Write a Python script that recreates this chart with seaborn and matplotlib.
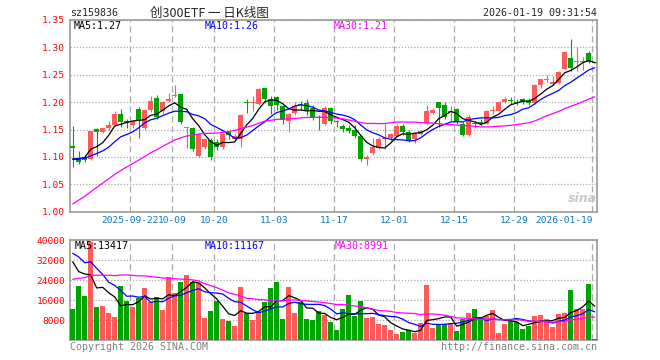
import numpy as np
import pandas as pd
import matplotlib
matplotlib.use('Agg')
import matplotlib.pyplot as plt
import seaborn as sns

# 创300ETF 日K, 2025-09-08 .. 2026-01-19
opens = [1.120, 1.098, 1.099, 1.097, 1.151, 1.145, 1.153, 1.159, 1.179, 1.165,
         1.158, 1.188, 1.152, 1.185, 1.208, 1.183, 1.203, 1.212, 1.214, 1.152,
         1.153, 1.102, 1.118, 1.131, 1.128, 1.118, 1.145, 1.133, 1.133, 1.200,
         1.198, 1.196, 1.225, 1.205, 1.210, 1.193, 1.166, 1.180, 1.196, 1.198,
         1.190, 1.172, 1.160, 1.190, 1.165, 1.157, 1.152, 1.149, 1.139, 1.097,
         1.107, 1.117, 1.133, 1.135, 1.138, 1.157, 1.145, 1.132, 1.142, 1.162,
         1.180, 1.200, 1.194, 1.182, 1.188, 1.160, 1.140, 1.161, 1.163, 1.161,
         1.184, 1.184, 1.200, 1.204, 1.201, 1.205, 1.204, 1.199, 1.232, 1.241,
         1.234, 1.235, 1.260, 1.280, 1.273, 1.274, 1.289, 1.273]
highs = [1.157, 1.111, 1.103, 1.147, 1.152, 1.153, 1.165, 1.183, 1.188, 1.170,
         1.167, 1.191, 1.188, 1.212, 1.213, 1.203, 1.217, 1.232, 1.215, 1.155,
         1.155, 1.143, 1.135, 1.135, 1.132, 1.143, 1.147, 1.141, 1.178, 1.205,
         1.212, 1.225, 1.227, 1.212, 1.212, 1.195, 1.180, 1.200, 1.203, 1.205,
         1.194, 1.176, 1.193, 1.191, 1.168, 1.160, 1.159, 1.158, 1.140, 1.104,
         1.135, 1.137, 1.160, 1.143, 1.160, 1.160, 1.150, 1.145, 1.150, 1.194,
         1.190, 1.201, 1.200, 1.193, 1.190, 1.163, 1.176, 1.165, 1.170, 1.185,
         1.193, 1.203, 1.210, 1.210, 1.205, 1.208, 1.208, 1.233, 1.243, 1.249,
         1.247, 1.257, 1.294, 1.315, 1.300, 1.283, 1.293, 1.274]
lows = [1.082, 1.087, 1.090, 1.094, 1.102, 1.143, 1.150, 1.157, 1.155, 1.153,
        1.152, 1.135, 1.150, 1.182, 1.170, 1.178, 1.200, 1.209, 1.160, 1.117,
        1.110, 1.100, 1.115, 1.094, 1.112, 1.114, 1.132, 1.130, 1.118, 1.180,
        1.184, 1.195, 1.198, 1.178, 1.185, 1.160, 1.145, 1.177, 1.186, 1.176,
        1.168, 1.150, 1.158, 1.161, 1.154, 1.145, 1.144, 1.135, 1.092, 1.086,
        1.104, 1.115, 1.114, 1.128, 1.136, 1.140, 1.127, 1.125, 1.140, 1.160,
        1.178, 1.155, 1.170, 1.165, 1.160, 1.138, 1.138, 1.155, 1.156, 1.160,
        1.178, 1.183, 1.198, 1.197, 1.195, 1.196, 1.195, 1.197, 1.225, 1.236,
        1.232, 1.233, 1.258, 1.257, 1.257, 1.258, 1.272, 1.271]
closes = [1.116, 1.091, 1.095, 1.147, 1.145, 1.152, 1.159, 1.179, 1.163, 1.162,
          1.165, 1.165, 1.185, 1.203, 1.173, 1.200, 1.205, 1.213, 1.163, 1.153,
          1.115, 1.141, 1.132, 1.099, 1.119, 1.141, 1.140, 1.138, 1.176, 1.198,
          1.199, 1.224, 1.206, 1.193, 1.195, 1.168, 1.178, 1.193, 1.195, 1.186,
          1.172, 1.171, 1.190, 1.166, 1.163, 1.151, 1.147, 1.139, 1.097, 1.099,
          1.118, 1.133, 1.135, 1.141, 1.157, 1.145, 1.130, 1.143, 1.147, 1.183,
          1.186, 1.190, 1.173, 1.184, 1.163, 1.140, 1.173, 1.160, 1.161, 1.183,
          1.186, 1.200, 1.205, 1.202, 1.199, 1.203, 1.198, 1.232, 1.242, 1.243,
          1.236, 1.255, 1.292, 1.263, 1.275, 1.276, 1.274, 1.272]
volumes = [12400, 21600, 17600, 39300, 13200, 13600, 10900, 9200, 21600, 15700,
           13200, 16900, 20800, 15300, 17300, 12000, 25200, 18900, 23200, 26000,
           23200, 22900, 8900, 11600, 15700, 8400, 7700, 5600, 21200, 10700,
           8100, 11300, 15300, 20800, 23200, 8300, 21200, 10900, 15300, 8300,
           7900, 11600, 10000, 7200, 4000, 12400, 18000, 9600, 15700, 8900,
           9200, 6400, 6000, 4000, 2400, 3300, 4000, 2900, 6900, 22000,
           4900, 6000, 6300, 6900, 3700, 8300, 10900, 12400, 8300, 9600,
           12000, 2900, 6400, 7700, 7300, 4400, 5600, 9600, 10000, 8400,
           5300, 10400, 10900, 20000, 12400, 12400, 22400, 400]

# days before the window, only used for the moving averages
hist_close = [0.880, 0.890, 0.895, 0.905, 0.915, 0.925, 0.935, 0.955,
              0.965, 0.975, 0.980, 0.990, 0.995, 1.008,
              1.015, 1.030, 1.040, 1.045, 1.055, 1.065,
              1.080, 1.090, 1.105, 1.100, 1.105,
              1.091, 1.080, 1.072, 1.121]
hist_volume = [9000, 11000, 10500, 12000, 13500, 11500, 14000, 13000, 16400,
               18000, 22000, 20500, 26000, 24000, 21000, 28000, 25500, 27000, 29000, 29500,
               36000, 41000, 35000, 40000, 38000,
               41600, 22300, 41300, 39100]

tick_dates = ['2025-09-22', '2025-10-09', '2025-10-20', '2025-11-03', '2025-11-17',
              '2025-12-01', '2025-12-15', '2025-12-29', '2026-01-19']
tick_labels = ['2025-09-22', '10-09', '10-20', '11-03', '11-17',
               '12-01', '12-15', '12-29', '2026-01-19']
price_ticks = [1.00, 1.05, 1.10, 1.15, 1.20, 1.25, 1.30, 1.35]
volume_ticks = [8000, 16000, 24000, 32000, 40000]
price_ma_labels = ['MA5:1.27', 'MA10:1.26', 'MA30:1.21']
volume_ma_labels = ['MA5:13417', 'MA10:11167', 'MA30:8991']

holidays = pd.to_datetime(['2025-10-01', '2025-10-02', '2025-10-03', '2025-10-06',
                           '2025-10-07', '2025-10-08', '2026-01-01', '2026-01-02'])
days = pd.bdate_range('2025-09-08', '2026-01-19')
days = [d.strftime('%Y-%m-%d') for d in days if d not in holidays]

RED = '#ff5a5a'
GREEN = '#00a400'
GRID = '#aaaaaa'
FRAME = '#999999'
ma_colors = ['black', '#0000ff', '#ff00ff']

sns.set_style('white')
plt.rcParams['font.family'] = ['DejaVu Sans Mono', 'Noto Sans CJK SC']

n = len(closes)
x = np.arange(n)
o = np.array(opens)
c = np.array(closes)
up = c >= o
colors = np.where(up, RED, GREEN)

close_all = pd.Series(hist_close + closes)
vol_all = pd.Series(hist_volume + volumes)
price_ma = [close_all.rolling(k).mean().values[-n:] for k in (5, 10, 30)]
vol_ma = [vol_all.rolling(k).mean().values[-n:] for k in (5, 10, 30)]

W, H = 660, 360
fig = plt.figure(figsize=(W / 100, H / 100), dpi=100)
ax = fig.add_axes([70 / W, 1 - 211.7 / H, 527 / W, 191.7 / H])
axv = fig.add_axes([70 / W, 1 - 340 / H, 527 / W, 100 / H])

# candles
ax.vlines(x, lows, highs, colors=colors, lw=0.8, zorder=3)
ax.bar(x, np.maximum(np.abs(c - o), 0.0018), bottom=np.minimum(o, c),
       width=0.78, color=colors, linewidth=0, antialiased=False, zorder=4)
for ma, col in zip(price_ma, ma_colors):
    sns.lineplot(x=x, y=ma, ax=ax, color=col, lw=0.9, zorder=5)

# volume
axv.bar(x, volumes, width=0.8, color=colors, linewidth=0, antialiased=False, zorder=3)
for ma, col in zip(vol_ma, ma_colors):
    sns.lineplot(x=x, y=ma, ax=axv, color=col, lw=0.9, zorder=5)

grid_x = [days.index(d) - 0.4 for d in tick_dates]
for a in (ax, axv):
    a.set_xlim(-0.45, 87.38)
    a.set_xlabel('')
    a.set_ylabel('')
    a.set_xticks(grid_x)
    a.xaxis.grid(True, linestyle=(0, (5, 3)), color=GRID, lw=0.9)
    a.yaxis.grid(True, linestyle=(0, (1, 1.5)), color=GRID, lw=0.9)
    a.set_axisbelow(True)
    a.tick_params(length=0, labelsize=6.8, labelcolor='red', pad=3.5)
    for s in a.spines.values():
        s.set_color(FRAME)
        s.set_linewidth(1.2)

ax.set_ylim(1.00, 1.35)
ax.set_yticks(price_ticks)
ax.set_yticklabels(['%.2f' % t for t in price_ticks])
ax.set_xticklabels(tick_labels, color='#0a78c8', fontsize=6.8)
ax.tick_params(axis='x', pad=3)
ax.get_xticklabels()[-1].set_horizontalalignment('right')

axv.set_ylim(0, 40000)
axv.set_yticks(volume_ticks)
axv.set_yticklabels([str(t) for t in volume_ticks])
axv.set_xticklabels([])

def ftext(px, py, s, **kw):
    kw.setdefault('fontsize', 7.2)
    kw.setdefault('va', 'center')
    fig.text(px / W, 1 - py / H, s, **kw)

ftext(70, 13, 'sz159836')
ftext(150, 13, '创300ETF 一 日K线图', family=['Noto Sans CJK SC'], fontsize=9)
ftext(597, 13, '2026-01-19 09:31:54', ha='right')
for px, s, col in zip((74, 205, 334), price_ma_labels, ma_colors):
    ftext(px, 26, s, color=col)
for px, s, col in zip((75, 205, 335), volume_ma_labels, ma_colors):
    ftext(px, 246, s, color=col)
ftext(70, 347, 'Copyright 2026 SINA.COM', color='#808080')
ftext(597, 347, 'http://finance.sina.com.cn', ha='right', color='#808080')
ftext(597, 198, 'sina', ha='right', color='#c8c8c8', fontsize=9,
      family=['DejaVu Sans'], fontweight='bold', style='italic')

fig.savefig('out.png', dpi=100)
